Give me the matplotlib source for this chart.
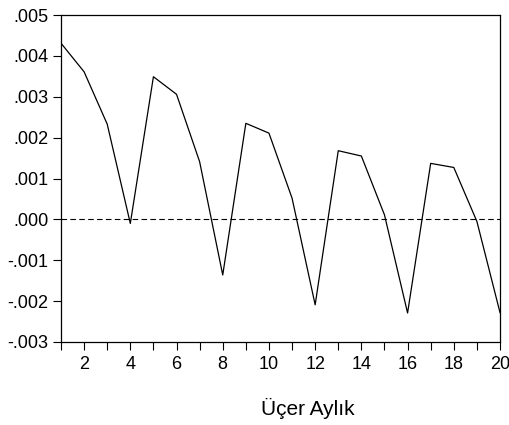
import matplotlib.pyplot as plt
from matplotlib.ticker import FuncFormatter, MultipleLocator

plt.rcParams['font.family'] = ['Liberation Sans', 'DejaVu Sans']

quarters = list(range(1, 21))
values = [0.00431, 0.00361, 0.00233, -0.00010, 0.00349, 0.00306, 0.00141, -0.00136,
          0.00235, 0.00211, 0.00052, -0.00209, 0.00168, 0.00155, 0.00011, -0.00229,
          0.00137, 0.00127, -0.00005, -0.00228]

fig = plt.figure(figsize=(5.09, 4.25), dpi=100)
ax = fig.add_axes([61/509, 1 - 342/425, 439/509, 327/425])

ax.plot(quarters, values, color='black', linewidth=0.9)
# Dashed line at 0.
ax.axhline(0, color='black', linewidth=0.8, linestyle=(0, (5, 3)))

ax.set_xlim(1, 20)
ax.set_ylim(-0.003, 0.005)
ax.set_xticks(range(2, 21, 2))
ax.xaxis.set_minor_locator(MultipleLocator(1))
ax.yaxis.set_major_locator(MultipleLocator(0.001))


def fmt(v, pos):
    s = '%.3f' % v
    if s.startswith('-0'):
        return '-' + s[2:]
    if s.startswith('0'):
        return s[1:]
    return s


ax.yaxis.set_major_formatter(FuncFormatter(fmt))
ax.tick_params(axis='both', which='both', direction='out', length=6, width=0.8,
               labelsize=13, colors='black')
ax.tick_params(axis='x', which='major', pad=4)
ax.tick_params(axis='y', which='major', pad=3)
for sp in ax.spines.values():
    sp.set_linewidth(0.9)

fig.text(308/509, 1 - 408/425, 'Üçer Aylık', fontsize=15, ha='center', va='center')

plt.savefig('out.png', dpi=100)
